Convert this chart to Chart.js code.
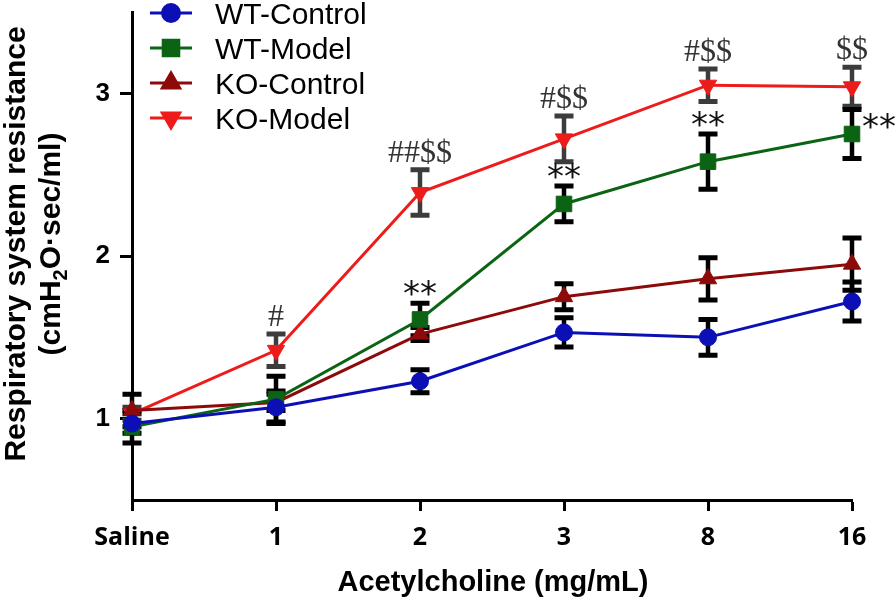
<!DOCTYPE html>
<html>
<head>
<meta charset="utf-8">
<script src="https://cdn.jsdelivr.net/npm/chart.js@4.4.1/dist/chart.umd.min.js"></script>
<style>
  html, body { margin: 0; padding: 0; background: #fff; }
  #wrap { width: 896px; height: 605px; position: relative; }
</style>
</head>
<body>
<div id="wrap"><canvas id="chart"></canvas></div>
<script>
// x categories (acetylcholine dose) and y ticks
const doses = ['Saline', '1', '2', '3', '8', '16'];
const yTicks = [1, 2, 3];

// mean values and error (SEM) per group
const wtControl = [0.97, 1.07, 1.23, 1.53, 1.50, 1.72];
const wtControlErr = [0.06, 0.10, 0.07, 0.09, 0.11, 0.12];
const wtModel = [0.95, 1.12, 1.61, 2.32, 2.58, 2.75];
const wtModelErr = [0.10, 0.14, 0.10, 0.11, 0.17, 0.15];
const koControl = [1.05, 1.10, 1.52, 1.75, 1.86, 1.95];
const koControlErr = [0.10, 0.05, 0.04, 0.08, 0.13, 0.16];
const koModel = [1.03, 1.42, 2.39, 2.72, 3.05, 3.04];
const koModelErr = [0.04, 0.10, 0.14, 0.14, 0.10, 0.12];

// significance marks
const koMarks = ['', '#', '##$$', '#$$', '#$$', '$$'];
const wtMarks = ['', '', '**', '**', '**', '**'];

const series = [
    { label: 'WT-Control', data: wtControl, err: wtControlErr, color: '#0b0fb5', style: 'circle', rot: 0, r: 8.5, errColor: '#000' },
    { label: 'WT-Model', data: wtModel, err: wtModelErr, color: '#0b6414', style: 'rect', rot: 0, r: 11, errColor: '#000' },
    { label: 'KO-Control', data: koControl, err: koControlErr, color: '#8c0a0a', style: 'triangle', rot: 0, r: 10, errColor: '#000' },
    { label: 'KO-Model', data: koModel, err: koModelErr, color: '#ee1b1b', style: 'triangle', rot: 180, r: 10, errColor: '#3c3c3c' },
];

const errorBars = {
    id: 'errorBars',
    beforeDatasetsDraw(chart) {
        const ctx = chart.ctx;
        const y = chart.scales.y;
        ctx.save();
        // draw last dataset first so the top ones stay on top
        for (let i = series.length - 1; i >= 0; i--) {
            const s = series[i];
            const meta = chart.getDatasetMeta(i);
            ctx.strokeStyle = s.errColor;
            meta.data.forEach((pt, j) => {
                const top = y.getPixelForValue(s.data[j] + s.err[j]);
                const bot = y.getPixelForValue(s.data[j] - s.err[j]);
                ctx.lineWidth = 4.5;
                ctx.beginPath();
                ctx.moveTo(pt.x, top);
                ctx.lineTo(pt.x, bot);
                ctx.stroke();
                ctx.lineWidth = 5;
                ctx.beginPath();
                ctx.moveTo(pt.x - 9.5, top);
                ctx.lineTo(pt.x + 9.5, top);
                ctx.moveTo(pt.x - 9.5, bot);
                ctx.lineTo(pt.x + 9.5, bot);
                ctx.stroke();
            });
        }
        ctx.restore();
    }
};

function drawCentered(ctx, text, x, cy) {
    const m = ctx.measureText(text);
    const off = (m.actualBoundingBoxAscent - m.actualBoundingBoxDescent) / 2;
    ctx.fillText(text, x, cy + off);
}

const decorations = {
    id: 'decorations',
    afterDraw(chart) {
        const ctx = chart.ctx;
        const y = chart.scales.y;
        const ko = chart.getDatasetMeta(3).data;
        const wt = chart.getDatasetMeta(1).data;
        ctx.save();

        // significance marks
        ctx.textAlign = 'center';
        ctx.textBaseline = 'alphabetic';
        ctx.fillStyle = '#333';
        ctx.font = '32px "Liberation Serif"';
        koMarks.forEach((t, j) => {
            if (!t) return;
            const cap = y.getPixelForValue(koModel[j] + koModelErr[j]);
            drawCentered(ctx, t, ko[j].x, cap - 19);
        });
        ctx.fillStyle = '#111';
        ctx.font = '34px "DejaVu Sans"';
        wtMarks.forEach((t, j) => {
            if (!t) return;
            const cap = y.getPixelForValue(wtModel[j] + wtModelErr[j]);
            if (j === wtMarks.length - 1) {
                ctx.textAlign = 'left';
                drawCentered(ctx, t, wt[j].x + 10, cap + 11);
                ctx.textAlign = 'center';
            } else {
                drawCentered(ctx, t, wt[j].x, cap - 15);
            }
        });

        // legend
        ctx.font = '30px "Liberation Sans"';
        ctx.textAlign = 'left';
        series.forEach((s, i) => {
            const ly = 13 + i * 35;
            ctx.strokeStyle = s.color;
            ctx.fillStyle = s.color;
            ctx.lineWidth = 3;
            ctx.beginPath();
            ctx.moveTo(150, ly);
            ctx.lineTo(192, ly);
            ctx.stroke();
            Chart.helpers.drawPoint(ctx, { pointStyle: s.style, rotation: s.rot, radius: s.r, borderWidth: 1 }, 171, ly);
            ctx.fillStyle = '#000';
            drawCentered(ctx, s.label, 215, ly);
        });

        // axis titles
        ctx.fillStyle = '#000';
        ctx.font = 'bold 29px "Liberation Sans"';
        ctx.textAlign = 'center';
        ctx.fillText('Acetylcholine (mg/mL)', 493, 591);

        ctx.translate(0, 244);
        ctx.rotate(-Math.PI / 2);
        ctx.font = 'bold 30px "Liberation Sans"';
        ctx.fillText('Respiratory system resistance', 0, 25);
        const parts = [['(cmH', 0], ['2', 1], ['O\u00b7sec/ml)', 0]];
        const big = 'bold 30px "Liberation Sans"';
        const small = 'bold 20px "Liberation Sans"';
        let total = 0;
        parts.forEach(p => { ctx.font = p[1] ? small : big; total += ctx.measureText(p[0]).width; });
        let x = -total / 2;
        ctx.textAlign = 'left';
        parts.forEach(p => {
            ctx.font = p[1] ? small : big;
            ctx.fillText(p[0], x, p[1] ? 67 : 60);
            x += ctx.measureText(p[0]).width;
        });
        ctx.restore();
    }
};

new Chart(document.getElementById('chart'), {
    type: 'line',
    data: {
        labels: doses,
        datasets: series.map(s => ({
            label: s.label,
            data: s.data,
            borderColor: s.color,
            backgroundColor: s.color,
            borderWidth: 3,
            pointStyle: s.style,
            pointRotation: s.rot,
            pointRadius: s.r,
            pointBorderWidth: 1,
            pointBackgroundColor: s.color,
            pointBorderColor: s.color,
            tension: 0,
            clip: false
        }))
    },
    options: {
        responsive: true,
        maintainAspectRatio: false,
        animation: false,
        layout: { padding: { left: 0, right: 44, top: 12, bottom: 0 } },
        plugins: {
            legend: { display: false },
            tooltip: { enabled: false }
        },
        scales: {
            x: {
                offset: false,
                afterFit(scale) {
                    scale.height = 105;
                    scale.paddingLeft = 0;
                    scale.paddingRight = 0;
                },
                border: { display: true, color: '#000', width: 3 },
                grid: { drawOnChartArea: false, drawTicks: true, tickLength: 11, tickWidth: 3, tickColor: '#000' },
                ticks: { color: '#000', padding: 12, font: { family: '"Open Sans"', weight: 'bold', size: 25 } }
            },
            y: {
                min: 0.5,
                max: 3.5,
                afterFit(scale) {
                    scale.width = 132;
                    scale.paddingTop = 0;
                    scale.paddingBottom = 0;
                },
                afterBuildTicks(scale) { scale.ticks = yTicks.map(v => ({ value: v })); },
                border: { display: true, color: '#000', width: 3 },
                grid: { drawOnChartArea: false, drawTicks: true, tickLength: 12, tickWidth: 3, tickColor: '#000' },
                ticks: { color: '#000', padding: 10, font: { family: '"Liberation Sans"', weight: 'bold', size: 26 } }
            }
        }
    },
    plugins: [errorBars, decorations]
});
</script>
</body>
</html>
